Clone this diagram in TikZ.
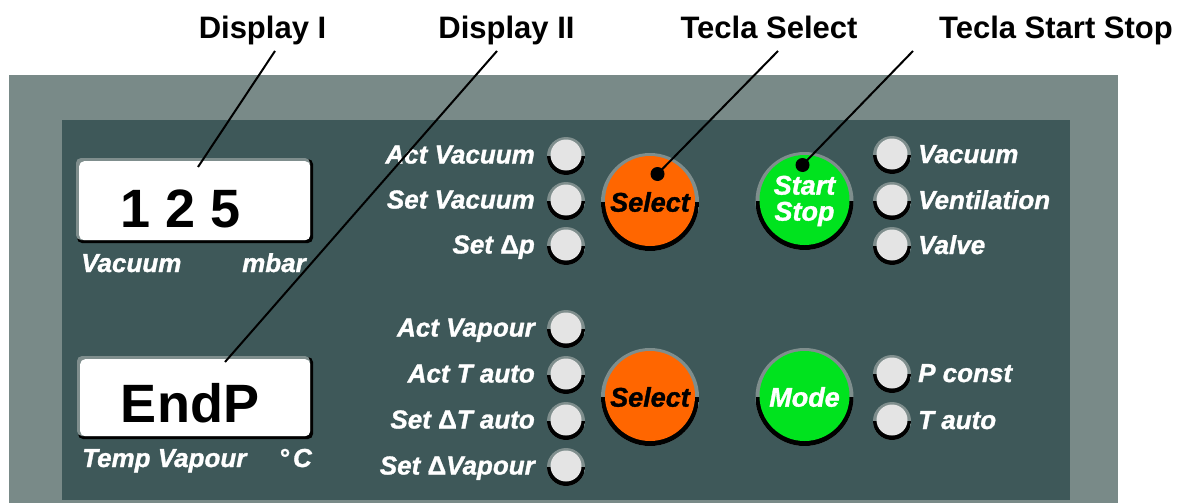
\documentclass[tikz,border=0pt]{standalone}
\usepackage{fontspec}
\setmainfont{Liberation Sans}
\newfontface\lblface{Liberation Sans Bold Italic}[FakeBold=1.2]
\newfontface\dlface{Liberation Sans Bold}[FakeBold=1.2]
\definecolor{outerc}{HTML}{798A88}
\definecolor{innerc}{HTML}{3E5859}
\definecolor{ringc}{HTML}{7F8E8D}
\definecolor{ledc}{HTML}{E4E4E4}
\definecolor{orangec}{HTML}{FF6600}
\definecolor{greenc}{HTML}{00E31E}
\newcommand{\dlt}{{\dlface Δ}}
\tikzset{
  hdr/.style={font=\fontsize{31}{31}\selectfont\bfseries, anchor=base, inner sep=0pt},
  lblL/.style={font=\fontsize{26}{26}\selectfont\lblface, text=white, inner sep=0pt, anchor=base east},
  lblR/.style={font=\fontsize{26}{26}\selectfont\lblface, text=white, inner sep=0pt, anchor=base west},
  led/.style={circle, minimum size=38pt, inner sep=0pt, fill=ringc,
    path picture={
      \fill[black] (path picture bounding box.west) rectangle (path picture bounding box.south east);
      \fill[ledc] ([yshift=1pt]path picture bounding box.center) circle[radius=15.5pt];
    }},
  btn/.style={circle, minimum size=98pt, inner sep=0pt, fill=ringc,
    font=\fontsize{27}{27}\selectfont\lblface, align=center,
    path picture={
      \fill[black] (path picture bounding box.west) rectangle (path picture bounding box.south east);
      \fill[#1] ([yshift=1pt]path picture bounding box.center) circle[radius=45pt];
    }},
  disp/.style={fill=white, rounded corners=5pt, inner sep=0pt, anchor=north west},
  dtext/.style={font=\fontsize{54}{54}\selectfont\bfseries, anchor=base, inner sep=0pt},
  dot/.style={circle, fill=black, minimum size=14pt, inner sep=0pt},
  callout/.style={draw=black, line width=2pt}
}
\begin{document}
\begin{tikzpicture}[x=1pt,y=-1pt]
\useasboundingbox (0,0) rectangle (1188,503);
% panels
\fill[outerc] (9,75) rectangle (1118,503);
\fill[innerc] (62,120) rectangle (1070,500);

% display I
\fill[black, rounded corners=5pt] (77,159) rectangle (313,243);
\fill[ringc, rounded corners=5pt] (76,158) rectangle (310,240);
\node[disp, minimum width=231pt, minimum height=79pt] (d1) at (79,161) {};
\node[dtext] (d1t) at (181,227) {1 2 5};
\node[lblR] (d1a) at (81,272) {Vacuum};
\node[lblL] (d1b) at (306,272) {mbar};

% display II
\fill[black, rounded corners=5pt] (78,357) rectangle (313,439);
\fill[ringc, rounded corners=5pt] (77,356) rectangle (310,436);
\node[disp, minimum width=230pt, minimum height=77pt] (d2) at (80,359) {};
\node[dtext] (d2t) at (190,422) {EndP};
\node[lblR] (d2a) at (82,467) {Temp Vapour};
\node[lblL] (d2b) at (312,467) {°\kern4pt C};

% left LEDs upper
\node[led] (l1) at (566,156) {};
\node[led] (l2) at (566,201) {};
\node[led] (l3) at (566,246) {};
\node[lblL] at (535,163.5) {Act Vacuum};
\node[lblL] at (535,208.5) {Set Vacuum};
\node[lblL] at (535,253.5) {Set \dlt p};

% left LEDs lower
\node[led] (l4) at (566,329) {};
\node[led] (l5) at (566,375) {};
\node[led] (l6) at (566,421) {};
\node[led] (l7) at (566,467) {};
\node[lblL] at (535,336.5) {Act Vapour};
\node[lblL] at (535,382.5) {Act T auto};
\node[lblL] at (535,428.5) {Set \dlt T auto};
\node[lblL] at (535,474.5) {Set \dlt Vapour};

% buttons
\node[btn=orangec, text=black] (sel1) at (650,202) {Select};
\node[btn=orangec, text=black] (sel2) at (650,397) {Select};
\node[btn=greenc, text=white] (ss) at (804.5,201) {Start\\[-1pt]Stop};
\node[btn=greenc, text=white] (mode) at (804.5,397) {Mode};

% right LEDs
\node[led] (r1) at (892,155) {};
\node[led] (r2) at (892,201) {};
\node[led] (r3) at (892,246) {};
\node[led] (r4) at (892,374) {};
\node[led] (r5) at (892,421) {};
\node[lblR] at (918,163) {Vacuum};
\node[lblR] at (918,209) {Ventilation};
\node[lblR] at (918,254) {Valve};
\node[lblR] at (918,382) {P const};
\node[lblR] at (918,429) {T auto};

% dots
\node[dot] (dsel) at (657.5,174) {};
\node[dot] (dss) at (802.5,165) {};

% headers
\node[hdr] (h1) at (262.5,38) {Display I};
\node[hdr] (h2) at (506.5,38) {Display II};
\node[hdr] (h3) at (769,38) {Tecla Select};
\node[hdr] (h4) at (1056,38) {Tecla Start Stop};

\coordinate (h1s) at (275,51);
\coordinate (h2s) at (497,51);
\coordinate (h3s) at (778,51);
\coordinate (h4s) at (913,51);
\coordinate (d1p) at (198,167);
\coordinate (d2p) at (225,362);

\draw[callout] (h1s) -- (d1p);
\draw[callout] (h2s) -- (d2p);
\draw[callout] (h3s) -- (dsel.center);
\draw[callout] (h4s) -- (dss.center);
\end{tikzpicture}
\end{document}
